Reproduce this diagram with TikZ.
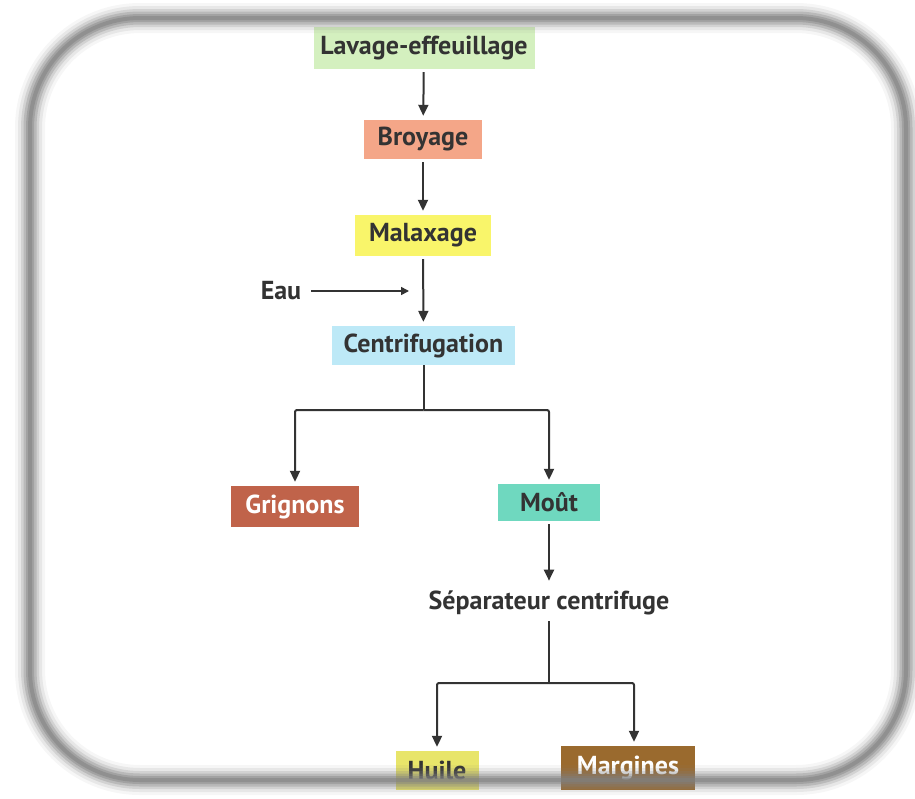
\documentclass[tikz,border=0pt]{standalone}
\usepackage{fontspec}
\setmainfont{PT Sans}
\usetikzlibrary{arrows.meta}
\definecolor{cLav}{HTML}{D4F0BF}
\definecolor{cBro}{HTML}{F4A688}
\definecolor{cMal}{HTML}{F9F56A}
\definecolor{cCen}{HTML}{BDE9F7}
\definecolor{cGri}{HTML}{C0634A}
\definecolor{cMou}{HTML}{6FD8BF}
\definecolor{cHui}{HTML}{E8E56A}
\definecolor{cMar}{HTML}{9A6A2E}
\definecolor{txt}{HTML}{333333}
\definecolor{arr}{HTML}{333333}
\definecolor{frameg}{HTML}{808080}
\begin{document}
\begin{tikzpicture}[x=1pt,y=-1pt,
  lbl/.style={font=\bfseries\fontsize{26}{30}\selectfont, text=txt, inner sep=0pt},
  box/.style={lbl, minimum height=40pt},
  link/.style={draw=arr, line width=2pt},
  flow/.style={link, -{Triangle[length=11pt,width=10pt]}, shorten >=4pt},
]
\useasboundingbox (0,0) rectangle (915,798);
\fill[white] (0,0) rectangle (915,798);

% process steps
\node[box, fill=cLav, minimum width=221pt, minimum height=42pt] (lav) at (424,48) {Lavage-effeuillage};
\node[box, fill=cBro, minimum width=118pt, minimum height=39pt] (bro) at (423,139.5) {Broyage};
\node[box, fill=cMal, minimum width=136pt, minimum height=41pt] (mal) at (423,235.5) {Malaxage};
\node[box, fill=cCen, minimum width=183pt, minimum height=39pt] (cen) at (423.5,345.5) {Centrifugation};
\node[lbl] (eau) at (281,291) {Eau};
\coordinate (eauend) at (409,291);

% products of the centrifugation
\node[box, fill=cGri, text=white, minimum width=128pt, minimum height=41pt] (gri) at (295,506.5) {Grignons};
\node[box, fill=cMou, minimum width=102pt, minimum height=37pt] (mou) at (549,502.5) {Moût};
\node[lbl, inner sep=6pt] (sep) at (549,603) {Séparateur centrifuge};
\node[box, fill=cHui, minimum width=83pt, minimum height=39pt] (hui) at (437,770.5) {Huile};
\node[box, fill=cMar, text=white, minimum width=134pt, minimum height=44pt] (mar) at (628,768) {Margines};

% connectors
\coordinate (cj) at (423.5,410);
\coordinate (sj) at (549,683);
\draw[flow, shorten <=3pt] (lav) -- (bro);
\draw[flow, shorten <=3pt] (bro) -- (mal);
\draw[flow, shorten <=3pt] (mal) -- (cen);
\draw[link, line width=1.6pt, shorten <=10pt, -{Triangle[length=8pt,width=8pt]}] (eau.east) -- (eauend);
\draw[link] (cen) -- (cj);
\draw[flow, rounded corners=2pt] (cj) -| (gri);
\draw[flow, rounded corners=2pt] (cj) -| (mou);
\draw[flow, shorten <=3pt] (mou) -- (sep);
\draw[link] (sep) -- (sj);
\draw[flow, rounded corners=2pt] (sj) -| (hui);
\draw[flow, rounded corners=2pt] (sj) -| ([xshift=6pt]mar.north);

% soft grey rounded frame
\foreach \w/\o in {30/0.07, 24/0.12, 18/0.2, 13/0.3, 8/0.4, 4/0.5}
  \draw[line width=\w pt, draw=frameg, opacity=\o, rounded corners=110pt] (30,18) rectangle (906,780);
\end{tikzpicture}
\end{document}
